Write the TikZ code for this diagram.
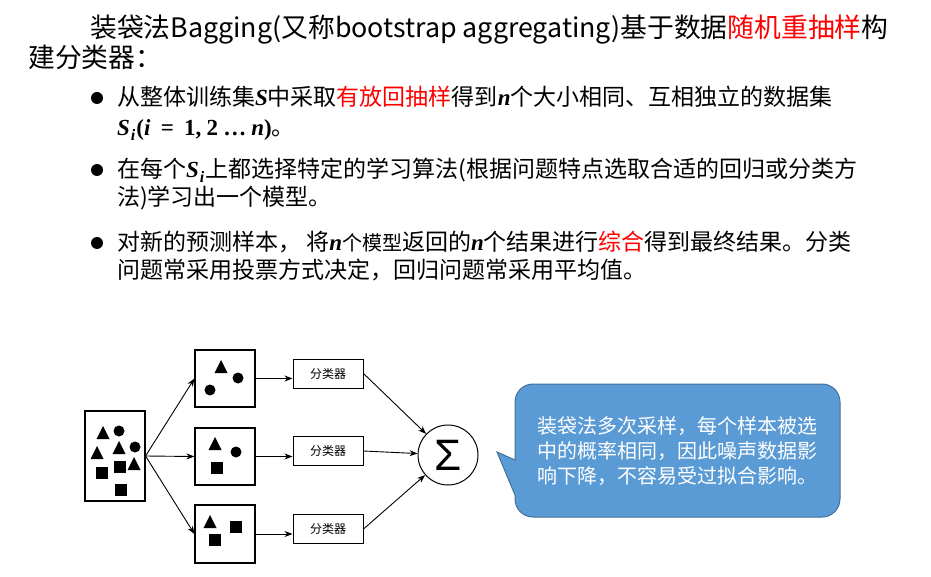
\documentclass[tikz,border=0pt]{standalone}
\usepackage{fontspec}
\setmainfont{Noto Sans CJK SC}
\newfontfamily\varfont{Liberation Serif}
\newfontfamily\sumfont{Liberation Sans}
\usetikzlibrary{arrows.meta,positioning}
\definecolor{callfill}{HTML}{5B9BD5}
\definecolor{calldraw}{HTML}{41719C}
\definecolor{hl}{HTML}{FF0000}
\newcommand{\bvar}[1]{{\varfont\bfseries\itshape #1}}
\newcommand{\bnum}[1]{{\varfont\bfseries #1}}
\newcommand{\bsub}[1]{\kern1pt\raisebox{-0.2em}{\fontsize{16}{16}\selectfont\bvar{#1}}\kern1pt}
\tikzset{
  txt/.style={anchor=base west, inner sep=0pt, font=\fontsize{23}{29}\selectfont},
  dot/.style={circle, fill, inner sep=0pt, minimum width=11pt, minimum height=12pt},
  sample/.style={draw, line width=1.1pt, minimum width=60pt, minimum height=57pt, inner sep=0pt},
  clf/.style={draw, line width=1pt, minimum width=70pt, minimum height=29pt,
    font=\fontsize{12}{14}\selectfont},
  flow/.style={-{Stealth[length=8pt, width=6pt]}, line width=0.9pt},
}
\begin{document}
\begin{tikzpicture}[x=1pt, y=-1pt]
\useasboundingbox (0,0) rectangle (931,577);
\fill[white] (0,0) rectangle (931,577);

% Heading and the three bullet points.
\node[txt, font=\fontsize{26.8}{30}\selectfont] (head1) at (90,38)
  {装袋法Bagging(又称bootstrap aggregating)基于数据\textcolor{hl}{随机重抽样}构};
\node[txt, font=\fontsize{26.8}{30}\selectfont] (head2) at (28,68) {建分类器：};

\node[dot] (dot1) at (97,98) {};
\node[txt] (pt1a) at (117,106)
  {从整体训练集\bvar{S}中采取\textcolor{hl}{有放回抽样}得到\bvar{n}个大小相同、互相独立的数据集};
\node[txt] (pt1b) at (117,136)
  {\bvar{S}\bsub{i}\bnum{(}\bvar{i}\ \ \bnum{=}\ \ \bnum{1}\bnum{,}\ \bnum{2}\ \bnum{\dots}\ \bvar{n}\bnum{)}。};

\node[dot] (dot2) at (97,170) {};
\node[txt] (pt2a) at (117,178)
  {在每个\bvar{S}\bsub{i}上都选择特定的学习算法(根据问题特点选取合适的回归或分类方};
\node[txt] (pt2b) at (117,206) {法)学习出一个模型。};

\node[dot] (dot3) at (97,243) {};
\node[txt] (pt3a) at (117,251)
  {对新的预测样本， 将\bvar{n}{\fontsize{20}{24}\selectfont 个模型}返回的\bvar{n}个结果进行\textcolor{hl}{综合}得到最终结果。分类};
\node[txt] (pt3b) at (117,279) {问题常采用投票方式决定，回归问题常采用平均值。};

% Training set, bootstrap samples, classifiers, sum.
\node[sample, minimum height=90pt] (data) at (115,456) {};
\node[sample] (s1) at (225,378.5) {};
\node[sample] (s2) at (225,456.5) {};
\node[sample, minimum height=58pt] (s3) at (225,534) {};

\foreach \p in {(103,433),(97,453),(119,448),(134,464),(221,367),(215,444),(210,522)}
  \fill \p ++(0,-7) -- ++(6.5,13) -- ++(-13,0) -- cycle;
\foreach \p in {(119,431),(135,447),(238,378),(210,390),(236,452)}
  \fill \p circle (5.5);
\foreach \p in {(120,467),(102,473),(121,490),(217,468),(236,527),(215,540)}
  \fill \p ++(-6,-6) rectangle ++(12,12);

\node[clf] (c1) at (328,373.5) {分类器};
\node[clf] (c2) at (328,451) {分类器};
\node[clf] (c3) at (328,529) {分类器};

\node[circle, draw, line width=1pt, minimum size=60pt, inner sep=0pt,
  font=\sumfont\fontsize{44}{44}\selectfont] (sum) at (448,455) {Σ};

\foreach \s in {s1,s2,s3}
  \draw[flow] (data.east) -- (\s.west);
\foreach \i in {1,2,3} {
  \draw[flow] (s\i.east) -- (s\i.east -| c\i.west);
  \draw[flow] (c\i.east) -- (sum);
}

% Callout.
\draw[calldraw, line width=1pt, fill=callfill] (515,460) [rounded corners=18pt] -- (515,384)
  -- (840,384) -- (840,517) -- (515,517) [sharp corners] -- (515,495) -- (497,452) -- cycle;
\node[text=white, align=left, font=\fontsize{20}{25}\selectfont] (note) at (677,451)
  {装袋法多次采样，每个样本被选\\中的概率相同，因此噪声数据影\\响下降，不容易受过拟合影响。};

\end{tikzpicture}
\end{document}
